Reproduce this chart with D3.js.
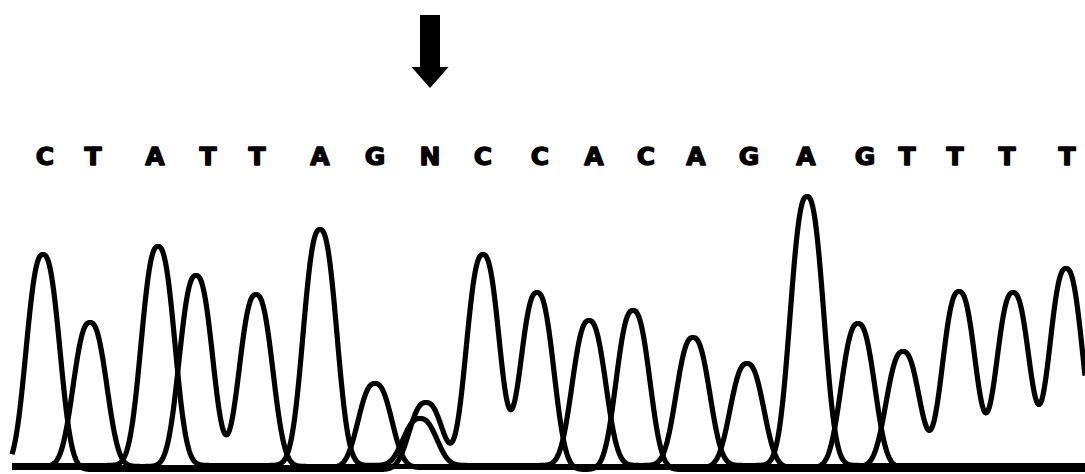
<!DOCTYPE html>
<html>
<head>
<meta charset="utf-8">
<script src="https://cdn.jsdelivr.net/npm/d3@7"></script>
<style>
  html, body { margin: 0; padding: 0; background: #fff; }
  svg { display: block; }
</style>
</head>
<body>
<svg id="chart" width="1085" height="474"></svg>
<script>
// ---- Data (scan positions and signal intensities) ----
const baseCalls = ["C","T","A","T","T","A","G","N","C","C","A","C","A","G","A","G","T","T","T","T"];
const callScans = [33, 81, 143, 196, 245, 308, 363, 418, 471, 528, 582, 634, 684, 737, 794, 853, 895, 943, 995, 1055];
const markedCallIndex = 7; // the "N" position indicated by the arrow

const peaksA = [[146, 2190], [308, 2360], [408, 470], [577, 1450], [681, 1280], [795, 2690]];
const peaksC = [[31, 2150], [414, 670], [471, 2150], [525, 1770], [621, 1590]];
const peaksG = [[363, 840], [735, 1040], [846, 1440]];
const peaksT = [[78, 1440], [184, 1910], [244, 1720], [891, 1150], [947, 1750], [1001, 1740], [1054, 1980]];
const baselineA = 20, baselineC = -20, baselineG = 0, baselineT = 10;
const scanRange = [0, 1073];
const intensityRange = [0, 3000];
const peakHalfWidth = 21;   // peak shape parameter (scans)
const peakExponent = 2.5;

// ---- Chart ----
const svg = d3.select("#chart");
const x = d3.scaleLinear().domain(scanRange).range([12, 1085]);
const y = d3.scaleLinear().domain(intensityRange).range([467.5, 167.5]);

const scans = d3.range(scanRange[0], scanRange[1] + 0.5, 0.5);
function trace(peaks, base) {
  return scans.map(s => {
    let v = base;
    for (const [p, h] of peaks) {
      const d = Math.abs(s - p) / peakHalfWidth;
      v += h * Math.exp(-Math.pow(d, peakExponent));
    }
    return [s, v];
  });
}
const channels = [
  trace(peaksG, baselineG),
  trace(peaksA, baselineA),
  trace(peaksT, baselineT),
  trace(peaksC, baselineC)
];

const line = d3.line().x(d => x(d[0])).y(d => y(d[1])).curve(d3.curveLinear);

svg.append("g")
  .selectAll("path")
  .data(channels)
  .join("path")
  .attr("d", line)
  .attr("fill", "none")
  .attr("stroke", "#000")
  .attr("stroke-width", 5.2)
  .attr("stroke-linejoin", "round")
  .attr("stroke-linecap", "butt");

// Base calls
svg.append("g")
  .selectAll("text")
  .data(baseCalls)
  .join("text")
  .attr("x", (d, i) => x(callScans[i]))
  .attr("y", 165)
  .attr("text-anchor", "middle")
  .attr("font-family", "DejaVu Sans, sans-serif")
  .attr("font-weight", "bold")
  .attr("font-size", 25)
  .attr("fill", "#000")
  .attr("stroke", "#000")
  .attr("stroke-width", 1.4)
  .attr("stroke-linejoin", "round")
  .text(d => d);

// Arrow pointing at the marked call
const ax = x(callScans[markedCallIndex]);
const arrow = d3.path();
arrow.moveTo(ax - 10, 15);
arrow.lineTo(ax + 10, 15);
arrow.lineTo(ax + 10, 67);
arrow.lineTo(ax + 18.5, 67);
arrow.lineTo(ax, 88);
arrow.lineTo(ax - 18.5, 67);
arrow.lineTo(ax - 10, 67);
arrow.closePath();
svg.append("path").attr("d", arrow.toString()).attr("fill", "#000");
</script>
</body>
</html>
